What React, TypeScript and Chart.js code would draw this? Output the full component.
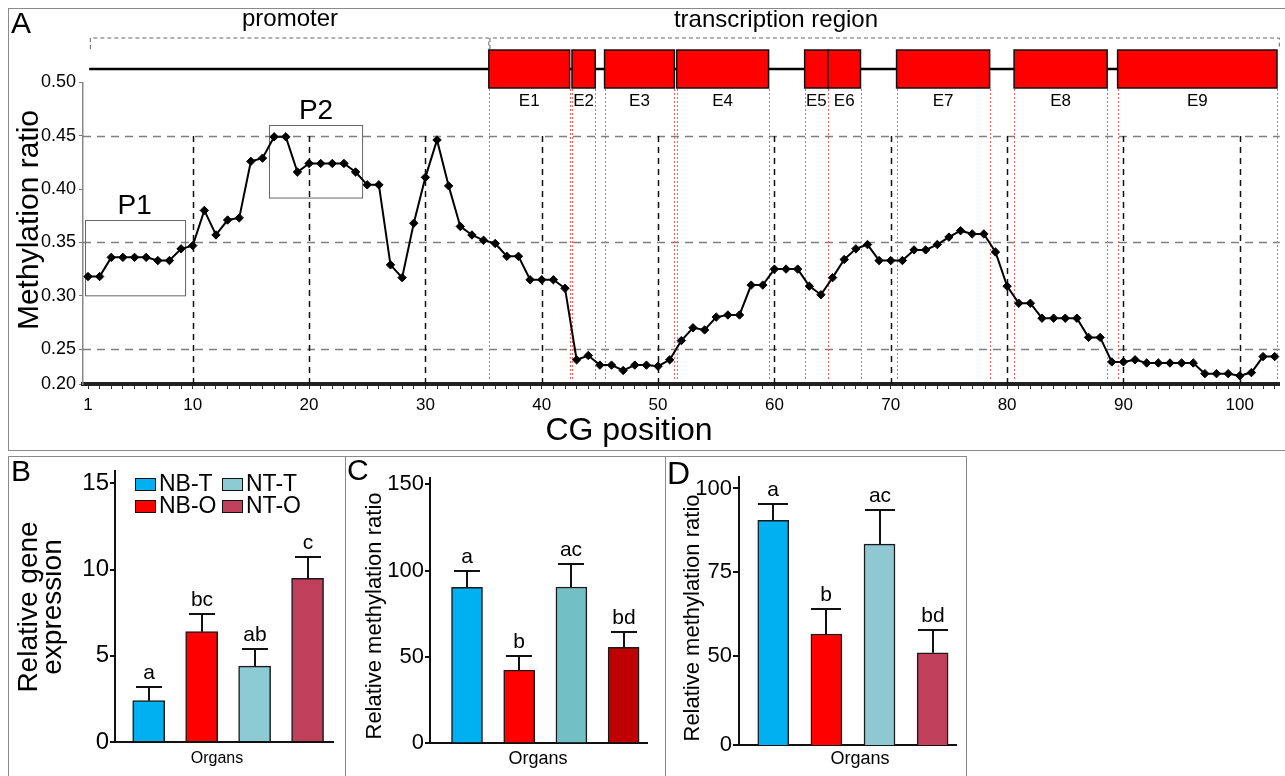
import React, { useEffect, useRef } from 'react';
import { Chart, registerables } from 'chart.js';

Chart.register(...registerables);

const FONT = '"Liberation Sans", Arial, Helvetica, sans-serif';

// ---------------- Panel A data ----------------
const methylationRatio = [
  0.318, 0.318, 0.336, 0.336, 0.336, 0.336, 0.333, 0.333, 0.344, 0.347,
  0.380, 0.357, 0.371, 0.373, 0.426, 0.429, 0.449, 0.449, 0.416, 0.424,
  0.424, 0.424, 0.424, 0.416, 0.404, 0.404, 0.329, 0.317, 0.368, 0.411,
  0.446, 0.403, 0.365, 0.357, 0.352, 0.349, 0.337, 0.337, 0.315, 0.315,
  0.315, 0.307, 0.240, 0.244, 0.235, 0.235, 0.230, 0.235, 0.235, 0.234,
  0.240, 0.258, 0.270, 0.268, 0.280, 0.282, 0.282, 0.310, 0.310, 0.325,
  0.325, 0.325, 0.309, 0.301, 0.317, 0.334, 0.344, 0.348, 0.333, 0.333,
  0.333, 0.343, 0.343, 0.348, 0.355, 0.361, 0.358, 0.358, 0.341, 0.309,
  0.293, 0.293, 0.279, 0.279, 0.279, 0.279, 0.261, 0.261, 0.238, 0.238,
  0.240, 0.237, 0.237, 0.237, 0.237, 0.237, 0.227, 0.227, 0.227, 0.225,
  0.228, 0.243, 0.243,
];
const exonLabels = ['E1', 'E2', 'E3', 'E4', 'E5', 'E6', 'E7', 'E8', 'E9'];
const exonStart = [35.45, 42.6, 45.4, 51.6, 62.6, 64.6, 70.5, 80.6, 89.5];
const exonEnd = [42.4, 44.6, 51.4, 59.5, 64.6, 67.4, 78.5, 88.6, 103.2];
const xTickLabelsA = [1, 10, 20, 30, 40, 50, 60, 70, 80, 90, 100];
const yTicksA = [0.25, 0.3, 0.35, 0.4, 0.45, 0.5];
const yFloorA = 0.2173; // axis floor, labelled "0.20" in the figure
const dashedGridY = [0.25, 0.35, 0.45];
const dashedGridX = [10, 20, 30, 40, 50, 60, 70, 80, 90, 100];
const regionNames = ['P1', 'P2'];
const regionFrom = [0.71, 16.6];
const regionTo = [9.31, 24.6];
const regionLow = [0.3, 0.392];
const regionHigh = [0.3706, 0.46];

// ---------------- Panels B–D data ----------------
const organs = ['NB-T', 'NB-O', 'NT-T', 'NT-O'];
const expressionB = [2.4, 6.4, 4.4, 9.5];
const expressionErrB = [0.8, 1.0, 1.0, 1.25];
const lettersB = ['a', 'bc', 'ab', 'c'];
const methylC = [90.3, 42.4, 90.5, 55.6];
const methylErrC = [9.7, 8.3, 13.2, 9.0];
const lettersC = ['a', 'b', 'ac', 'bd'];
const methylD = [90.5, 56.6, 83.4, 51.0];
const methylErrD = [5.0, 7.4, 10.1, 6.8];
const lettersD = ['a', 'b', 'ac', 'bd'];
const colorsB = ['#00B0F0', '#FF0000', '#8CCAD4', '#C0405C'];
const colorsC = ['#00B0F0', '#FF0000', '#73BFC6', '#C00000'];
const colorsD = ['#00B0F0', '#FF0000', '#8EC8D0', '#C0405C'];
const yTicksB = [0, 5, 10, 15];
const yTicksC = [0, 50, 100, 150];
const yTicksD = [23.5, 50, 75, 100];
const yTickLabelsD = ['0', '50', '75', '100'];

function PanelA() {
  const ref = useRef<HTMLCanvasElement>(null);
  useEffect(() => {
    const OX = 8, OY = 8;
    const gx = (v: number) => v - OX;
    const gy = (v: number) => v - OY;
    const plugin: any = {
      id: 'panelA',
      beforeDatasetsDraw(chart: any) {
        const { ctx, chartArea: ca, scales } = chart;
        const x = scales.x, y = scales.y;
        ctx.save();
        ctx.lineWidth = 1.5;
        ctx.strokeStyle = '#7f7f7f';
        ctx.setLineDash([8, 6]);
        dashedGridY.forEach((v) => {
          const py = Math.round(y.getPixelForValue(v)) + 0.5;
          ctx.beginPath(); ctx.moveTo(ca.left, py); ctx.lineTo(ca.right, py); ctx.stroke();
        });
        ctx.strokeStyle = '#111';
        ctx.setLineDash([6, 5]);
        const topY = y.getPixelForValue(0.45);
        dashedGridX.forEach((v) => {
          const px = Math.round(x.getPixelForValue(v)) + 0.5;
          ctx.beginPath(); ctx.moveTo(px, ca.bottom); ctx.lineTo(px, topY); ctx.stroke();
        });
        ctx.strokeStyle = '#ff5a5a';
        ctx.lineWidth = 1;
        ctx.setLineDash([2, 2]);
        [...exonStart, ...exonEnd].forEach((v) => {
          const px = Math.round(x.getPixelForValue(v)) + 0.5;
          ctx.beginPath(); ctx.moveTo(px, gy(89)); ctx.lineTo(px, ca.bottom - 4); ctx.stroke();
        });
        ctx.setLineDash([]);
        ctx.strokeStyle = '#666';
        ctx.lineWidth = 1;
        ctx.fillStyle = '#000';
        ctx.font = `28px ${FONT}`;
        ctx.textAlign = 'center';
        ctx.textBaseline = 'middle';
        regionNames.forEach((name, i) => {
          const x0 = x.getPixelForValue(regionFrom[i]);
          const x1 = x.getPixelForValue(regionTo[i]);
          const y0 = y.getPixelForValue(regionHigh[i]);
          const y1 = y.getPixelForValue(regionLow[i]);
          ctx.strokeRect(Math.round(x0) + 0.5, Math.round(y0) + 0.5, x1 - x0, y1 - y0);
          ctx.fillText(name, (x0 + x1) / 2, y0 - 14);
        });
        ctx.restore();
      },
      afterDraw(chart: any) {
        const { ctx, scales } = chart;
        const x = scales.x;
        ctx.save();
        // brackets
        ctx.strokeStyle = '#666';
        ctx.lineWidth = 1;
        ctx.setLineDash([4, 3]);
        const bracket = (a: number, b: number) => {
          const xa = x.getPixelForValue(a), xb = x.getPixelForValue(b);
          ctx.beginPath();
          ctx.moveTo(xa, gy(49)); ctx.lineTo(xa, gy(38)); ctx.lineTo(xb, gy(38)); ctx.lineTo(xb, gy(49));
          ctx.stroke();
        };
        bracket(1.2, exonStart[0]);
        bracket(exonStart[0] + 0.1, 103.4);
        ctx.setLineDash([]);
        // gene line
        ctx.strokeStyle = '#000';
        ctx.lineWidth = 2.5;
        ctx.beginPath();
        ctx.moveTo(x.getPixelForValue(1.1), gy(69));
        ctx.lineTo(x.getPixelForValue(exonEnd[exonEnd.length - 1]), gy(69));
        ctx.stroke();
        // exons
        ctx.lineWidth = 1.5;
        ctx.font = `17px ${FONT}`;
        ctx.textAlign = 'center';
        ctx.textBaseline = 'middle';
        exonLabels.forEach((lab, i) => {
          const x0 = x.getPixelForValue(exonStart[i]);
          const x1 = x.getPixelForValue(exonEnd[i]);
          ctx.fillStyle = '#FF0000';
          ctx.fillRect(x0, gy(50), x1 - x0, 38);
          ctx.strokeStyle = '#111';
          ctx.strokeRect(x0, gy(50), x1 - x0, 38);
          ctx.fillStyle = '#000';
          ctx.fillText(lab, (x0 + x1) / 2, gy(101));
        });
        // texts
        ctx.fillStyle = '#000';
        ctx.font = `24px ${FONT}`;
        ctx.fillText('promoter', gx(290), gy(19));
        ctx.fillText('transcription region', gx(776), gy(20));
        ctx.font = `32px ${FONT}`;
        ctx.fillText('CG position', gx(629), gy(431));
        ctx.textAlign = 'left';
        ctx.font = `30px ${FONT}`;
        ctx.fillText('A', gx(11), gy(25));
        ctx.save();
        ctx.translate(gx(30), gy(220));
        ctx.rotate(-Math.PI / 2);
        ctx.textAlign = 'center';
        ctx.font = `30px ${FONT}`;
        ctx.fillText('Methylation ratio', 0, 0);
        ctx.restore();
        ctx.restore();
      },
    };
    const chart = new Chart(ref.current as HTMLCanvasElement, {
      type: 'line',
      data: {
        datasets: [
          {
            data: methylationRatio.map((v, i) => ({ x: i + 1, y: v })),
            borderColor: '#000',
            borderWidth: 2,
            pointStyle: 'rectRot',
            pointRadius: 4.2,
            pointBackgroundColor: '#000',
            pointBorderColor: '#000',
            pointBorderWidth: 1,
            tension: 0,
          } as any,
        ],
      },
      options: {
        responsive: false,
        animation: false,
        layout: { padding: { top: 74.4, right: 5, left: 0, bottom: 0 } },
        plugins: { legend: { display: false }, tooltip: { enabled: false } },
        scales: {
          x: {
            type: 'linear',
            min: 0.57,
            max: 103.44,
            offset: false,
            afterFit: (s: any) => { s.height = 66; },
            afterBuildTicks: (s: any) => { s.ticks = methylationRatio.map((_, i) => ({ value: i + 1 })); },
            ticks: {
              autoSkip: false,
              maxRotation: 0,
              padding: 6,
              color: '#000',
              font: { family: FONT, size: 17 },
              callback: (v: any) => (xTickLabelsA.includes(Number(v)) ? String(v) : ''),
            },
            grid: { drawOnChartArea: false, tickLength: 5, color: '#333', lineWidth: 1 },
            border: { color: '#222', width: 4 },
          },
          y: {
            min: yFloorA,
            max: 0.5,
            afterFit: (s: any) => { s.width = 75; },
            afterBuildTicks: (s: any) => { s.ticks = [yFloorA, ...yTicksA].map((v) => ({ value: v })); },
            ticks: {
              color: '#000',
              padding: 3,
              font: { family: FONT, size: 18 },
              callback: (v: any) => (Number(v) === yFloorA ? '0.20' : Number(v).toFixed(2)),
            },
            grid: { drawOnChartArea: false, tickLength: 4, color: '#777' },
            border: { color: '#888', width: 1.5 },
          },
        },
      } as any,
      plugins: [plugin],
    });
    return () => chart.destroy();
  }, []);
  return (
    <canvas
      ref={ref}
      width={1277}
      height={442}
      style={{ position: 'absolute', left: 8, top: 8, width: 1277, height: 442 }}
    />
  );
}

type BarProps = {
  left: number;
  width: number;
  area: { l: number; r: number; t: number; b: number };
  values: number[];
  errs: number[];
  letters: string[];
  colors: string[];
  yMin: number;
  yMax: number;
  yTicks: number[];
  yTickLabels?: string[];
  xMin: number;
  xMax: number;
  barW: number;
  capW: number;
  tickFont: number;
  tickLen: number;
  titleLines: string[];
  titleXs: number[];
  titleY: number;
  titleFont: number;
  organsX: number;
  organsFont: number;
  panel: string;
  panelX: number;
  panelY: number;
  panelFont: number;
  legend?: boolean;
};

function BarPanel(p: BarProps) {
  const ref = useRef<HTMLCanvasElement>(null);
  useEffect(() => {
    const OX = p.left, OY = 456, H = 320;
    const gx = (v: number) => v - OX;
    const gy = (v: number) => v - OY;
    const plugin: any = {
      id: 'bars' + p.panel,
      afterDatasetsDraw(chart: any) {
        const { ctx, scales } = chart;
        const x = scales.x, y = scales.y;
        ctx.save();
        ctx.strokeStyle = '#111';
        ctx.lineWidth = 2;
        ctx.fillStyle = '#000';
        ctx.font = `21px ${FONT}`;
        ctx.textAlign = 'center';
        ctx.textBaseline = 'middle';
        p.values.forEach((v, i) => {
          const px = Math.round(x.getPixelForValue(i));
          const top = y.getPixelForValue(v);
          const e = Math.round(y.getPixelForValue(v + p.errs[i]));
          ctx.beginPath();
          ctx.moveTo(px, top); ctx.lineTo(px, e);
          ctx.moveTo(px - p.capW / 2, e); ctx.lineTo(px + p.capW / 2, e);
          ctx.stroke();
          ctx.fillText(p.letters[i], px, e - 14);
        });
        ctx.restore();
      },
      afterDraw(chart: any) {
        const { ctx } = chart;
        ctx.save();
        ctx.fillStyle = '#000';
        ctx.textBaseline = 'middle';
        ctx.textAlign = 'center';
        ctx.font = `${p.organsFont}px ${FONT}`;
        ctx.fillText('Organs', gx(p.organsX), gy(759));
        ctx.textAlign = 'left';
        ctx.font = `${p.panelFont}px ${FONT}`;
        ctx.fillText(p.panel, gx(p.panelX), gy(p.panelY));
        ctx.font = `${p.titleFont}px ${FONT}`;
        ctx.textAlign = 'center';
        p.titleLines.forEach((t, i) => {
          ctx.save();
          ctx.translate(gx(p.titleXs[i]), gy(p.titleY));
          ctx.rotate(-Math.PI / 2);
          ctx.fillText(t, 0, 0);
          ctx.restore();
        });
        if (p.legend) {
          ctx.font = `23px ${FONT}`;
          ctx.textAlign = 'left';
          const cols = [135, 222];
          const rows = [484, 506];
          organs.forEach((name, i) => {
            const col = i >= 2 ? 1 : 0;
            const row = i % 2;
            const bx = gx(cols[col]);
            const by = gy(rows[row]);
            ctx.fillStyle = p.colors[i];
            ctx.fillRect(bx, by - 6, 20, 12);
            ctx.strokeStyle = '#111';
            ctx.lineWidth = 1;
            ctx.strokeRect(bx + 0.5, by - 5.5, 20, 12);
            ctx.fillStyle = '#000';
            ctx.fillText(name, bx + 24, by + 1);
          });
        }
        ctx.restore();
      },
    };
    const a = p.area;
    const chart = new Chart(ref.current as HTMLCanvasElement, {
      type: 'bar',
      data: {
        datasets: [
          {
            data: p.values.map((v, i) => ({ x: i, y: v })),
            backgroundColor: p.colors,
            borderColor: '#1a1a1a',
            borderWidth: 1.5,
            barThickness: p.barW,
          } as any,
        ],
      },
      options: {
        responsive: false,
        animation: false,
        layout: { padding: { top: a.t - OY, right: p.width - (a.r - OX), left: 0, bottom: 0 } },
        plugins: { legend: { display: false }, tooltip: { enabled: false } },
        scales: {
          x: {
            type: 'linear',
            min: p.xMin,
            max: p.xMax,
            offset: false,
            afterFit: (s: any) => { s.height = H - (a.b - OY); },
            ticks: { display: false },
            grid: { display: false, offset: false },
            border: { color: '#111', width: 2 },
          },
          y: {
            min: p.yMin,
            max: p.yMax,
            afterFit: (s: any) => { s.width = a.l - OX; },
            afterBuildTicks: (s: any) => { s.ticks = p.yTicks.map((v) => ({ value: v })); },
            ticks: {
              color: '#000',
              padding: 1,
              font: { family: FONT, size: p.tickFont },
              callback: (v: any) => {
                const idx = p.yTicks.indexOf(Number(v));
                return p.yTickLabels && idx >= 0 ? p.yTickLabels[idx] : String(v);
              },
            },
            grid: { drawOnChartArea: false, tickLength: p.tickLen, color: '#111', lineWidth: 2 },
            border: { color: '#111', width: 2 },
          },
        },
      } as any,
      plugins: [plugin],
    });
    return () => chart.destroy();
  }, []);
  return (
    <canvas
      ref={ref}
      width={p.width}
      height={320}
      style={{ position: 'absolute', left: p.left, top: 456, width: p.width, height: 320 }}
    />
  );
}

export default function App() {
  const box = (l: number, t: number, w: number, h: number) => (
    <div
      style={{
        position: 'absolute', left: l, top: t, width: w, height: h,
        border: '1px solid #8a8a8a', boxSizing: 'border-box',
      }}
    />
  );
  return (
    <div
      style={{
        position: 'absolute', left: 0, top: 0, width: 1285, height: 776,
        background: '#fff', overflow: 'hidden', fontFamily: FONT,
      }}
    >
      {box(8, 8, 1290, 443)}
      {box(8, 456, 338, 330)}
      {box(345, 456, 321, 330)}
      {box(665, 456, 302, 330)}
      <PanelA />
      <BarPanel
        left={8} width={337} area={{ l: 115, r: 333, t: 470, b: 742 }}
        values={expressionB} errs={expressionErrB} letters={lettersB} colors={colorsB}
        yMin={0} yMax={15.7} yTicks={yTicksB}
        xMin={-0.636} xMax={3.48} barW={32} capW={26}
        tickFont={24} tickLen={5}
        titleLines={['Relative gene', 'expression']} titleXs={[29, 53]} titleY={607} titleFont={28}
        organsX={217} organsFont={16}
        panel="B" panelX={11} panelY={473} panelFont={30}
        legend
      />
      <BarPanel
        left={345} width={320} area={{ l: 430, r: 647, t: 478, b: 743.3 }}
        values={methylC} errs={methylErrC} letters={lettersC} colors={colorsC}
        yMin={0} yMax={153.6} yTicks={yTicksC}
        xMin={-0.709} xMax={3.448} barW={31} capW={26}
        tickFont={22} tickLen={5}
        titleLines={['Relative methylation ratio']} titleXs={[375]} titleY={616} titleFont={22}
        organsX={538} organsFont={18}
        panel="C" panelX={347} panelY={472} panelFont={30}
      />
      <BarPanel
        left={665} width={302} area={{ l: 739, r: 956, t: 476.7, b: 745 }}
        values={methylD} errs={methylErrD} letters={lettersD} colors={colorsD}
        yMin={23.5} yMax={103.5} yTicks={yTicksD} yTickLabels={yTickLabelsD}
        xMin={-0.645} xMax={3.44} barW={31} capW={30}
        tickFont={22} tickLen={6}
        titleLines={['Relative methylation ratio']} titleXs={[693]} titleY={618} titleFont={22}
        organsX={860} organsFont={18}
        panel="D" panelX={667} panelY={475} panelFont={32}
      />
    </div>
  );
}
